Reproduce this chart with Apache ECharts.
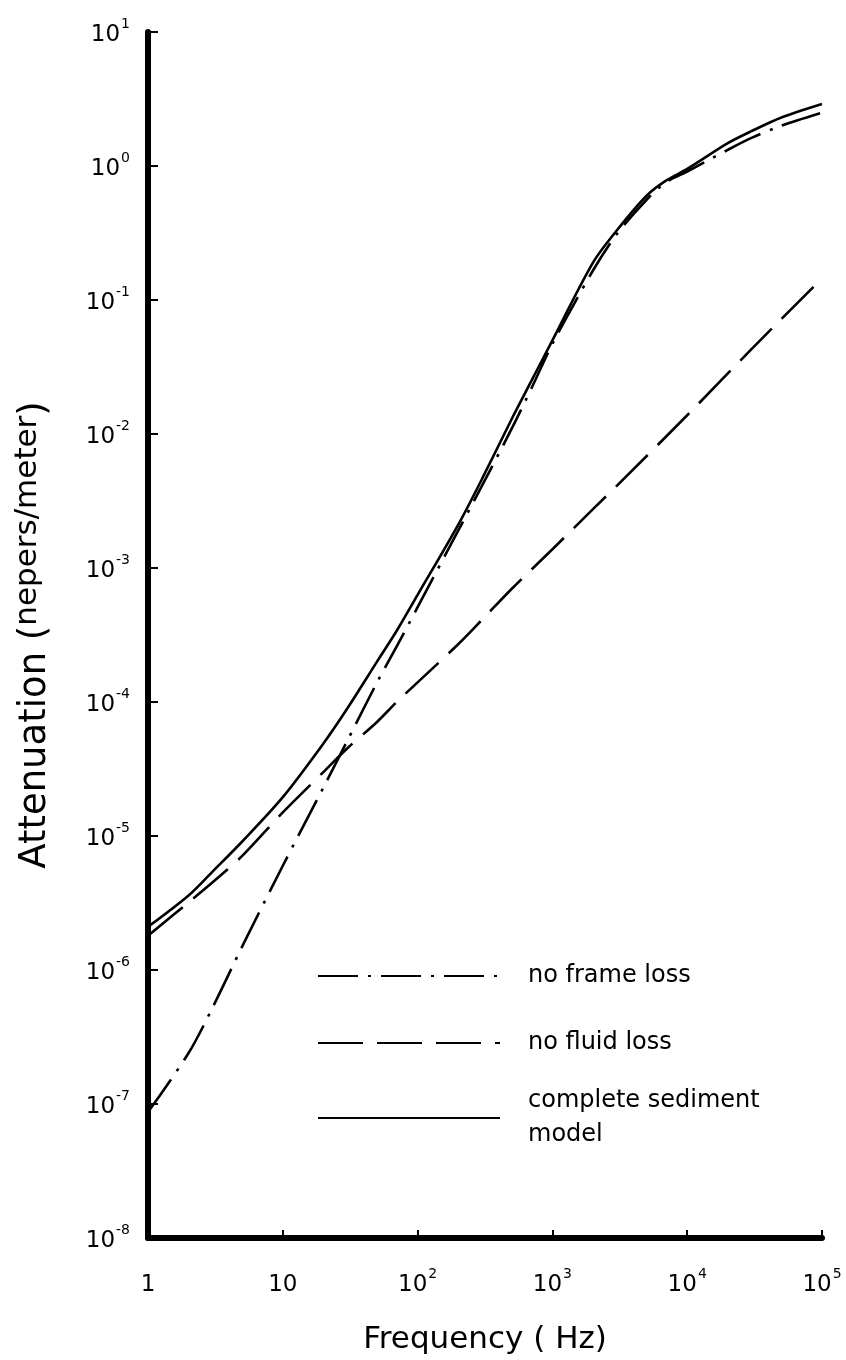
<!DOCTYPE html>
<html>
<head>
<meta charset="utf-8">
<script src="https://cdn.jsdelivr.net/npm/echarts@6/dist/echarts.min.js"></script>
<style>
html,body{margin:0;padding:0;background:#fff;}
#c{width:846px;height:1360px;}
</style>
</head>
<body>
<div id="c"></div>
<script>
// Frequencies (Hz)
var freqs = [1, 2, 3, 5, 10, 20, 30, 50, 70, 100, 200, 300, 500, 700, 1000, 2000, 3000, 5000, 7000, 10000, 20000, 30000, 50000, 100000];
// complete sediment model (nepers/meter)
var completeModel = [2.1e-6, 3.6e-6, 5.4e-6, 9.1e-6, 1.95e-5, 4.9e-5, 8.9e-5, 2.0e-4, 3.4e-4, 6.3e-4, 2.1e-3, 4.6e-3, 1.3e-2, 2.5e-2, 5.0e-2, 0.19, 0.33, 0.60, 0.78, 0.95, 1.48, 1.82, 2.3, 2.9];
// no frame loss
var noFrameLoss = [8.7e-8, 2.4e-7, 5.2e-7, 1.5e-6, 6.0e-6, 2.3e-5, 5.1e-5, 1.4e-4, 2.6e-4, 5.1e-4, 1.9e-3, 4.1e-3, 1.1e-2, 2.2e-2, 4.7e-2, 0.166, 0.31, 0.56, 0.76, 0.91, 1.32, 1.62, 2.0, 2.5];
// no fluid loss
var fluidFreqs = [1, 2, 3, 5, 10, 20, 30, 50, 70, 100, 200, 300, 500, 1000, 2000, 3000, 10000, 30000, 100000];
var noFluidLoss = [1.8e-6, 3.2e-6, 4.5e-6, 7.1e-6, 1.5e-5, 3.0e-5, 4.5e-5, 7.1e-5, 1.0e-4, 1.4e-4, 2.7e-4, 4.1e-4, 7.0e-4, 1.38e-3, 2.75e-3, 4.1e-3, 1.38e-2, 4.3e-2, 0.145];
// tick labels: base and superscript exponent
var xTickBase = ['1', '10', '10', '10', '10', '10'];
var xTickExp = ['', '', '2', '3', '4', '5'];
var yTickBase = ['10', '10', '10', '10', '10', '10', '10', '10', '10', '10'];
var yTickExp = ['-8', '-7', '-6', '-5', '-4', '-3', '-2', '-1', '0', '1'];
var seriesNames = ['no frame loss', 'no fluid loss', 'complete sediment model'];

function pairs(xs, ys) { return xs.map(function (x, i) { return [x, ys[i]]; }); }
function tickText(base, exp) {
  return '{b|' + base + '}' + (exp ? '{s|' + exp + '}' : '');
}

var FONT = 'DejaVu Sans';
var labelRich = {
  b: { fontSize: 23, fontFamily: FONT, color: '#000', lineHeight: 30, verticalAlign: 'bottom' },
  s: { fontSize: 14, fontFamily: FONT, color: '#000', lineHeight: 30, verticalAlign: 'top', padding: [0, 0, 16, 1] }
};

var chart = echarts.init(document.getElementById('c'), null, { renderer: 'canvas' });
chart.setOption({
  backgroundColor: '#fff',
  animation: false,
  grid: { left: 148, right: 24, top: 32, bottom: 113, containLabel: false },
  xAxis: {
    type: 'log', logBase: 10, min: 1, max: 100000, interval: 1,
    name: 'Frequency ( Hz)', nameLocation: 'middle', nameGap: 86,
    nameTextStyle: { fontSize: 31, fontFamily: FONT, color: '#000' },
    axisLine: { show: true, onZero: false, lineStyle: { color: '#000', width: 6 } },
    axisTick: { show: true, inside: true, length: 8, lineStyle: { color: '#000', width: 2 } },
    minorTick: { show: false },
    splitLine: { show: false },
    axisLabel: {
      margin: 29, color: '#000', fontSize: 23, fontFamily: FONT,
      formatter: function (v) { var i = Math.round(Math.log10(v)); return tickText(xTickBase[i], xTickExp[i]); },
      rich: labelRich
    }
  },
  yAxis: {
    type: 'log', logBase: 10, min: 1e-8, max: 10, interval: 1,
    name: '{a|Attenuation (}{n|nepers/meter}{a|)}', nameLocation: 'middle', nameGap: 94,
    nameRotate: 90,
    nameTextStyle: {
      rich: {
        a: { fontSize: 37, fontFamily: FONT, color: '#000', lineHeight: 42, verticalAlign: 'bottom' },
        n: { fontSize: 31, fontFamily: FONT, color: '#000', lineHeight: 42, verticalAlign: 'top' }
      }
    },
    axisLine: { show: true, onZero: false, lineStyle: { color: '#000', width: 6 } },
    axisTick: { show: true, inside: true, length: 10, lineStyle: { color: '#000', width: 2 } },
    minorTick: { show: false },
    splitLine: { show: false },
    axisLabel: {
      margin: 18, color: '#000', fontSize: 23, fontFamily: FONT,
      formatter: function (v) { var i = Math.round(Math.log10(v)) + 8; return tickText(yTickBase[i], yTickExp[i]); },
      rich: labelRich
    }
  },
  legend: [
    {
      orient: 'vertical', left: 312, top: 956,
      itemWidth: 182, itemHeight: 20, itemGap: 37,
      itemStyle: { opacity: 0, color: 'rgba(0,0,0,0)', borderWidth: 0 },
      textStyle: { fontSize: 24, fontFamily: FONT, color: '#000', padding: [0, 0, 0, 23], lineHeight: 30 },
      data: [seriesNames[0], seriesNames[1]]
    },
    {
      orient: 'vertical', left: 312, top: 1062,
      itemWidth: 182, itemHeight: 20,
      itemStyle: { opacity: 0, color: 'rgba(0,0,0,0)', borderWidth: 0 },
      textStyle: { fontSize: 24, fontFamily: FONT, color: '#000', padding: [34, 0, 0, 23], lineHeight: 34 },
      data: [seriesNames[2]],
      formatter: function () { return 'complete sediment\nmodel'; }
    }
  ],
  series: [
    {
      name: seriesNames[0], type: 'line', data: pairs(freqs, noFrameLoss),
      smooth: 0.3, symbol: 'none', showSymbol: false,
      lineStyle: { color: '#000', width: 2.6, type: [40, 10, 3, 10] },
      itemStyle: { color: '#000' }
    },
    {
      name: seriesNames[1], type: 'line', data: pairs(fluidFreqs, noFluidLoss),
      smooth: 0.3, symbol: 'none', showSymbol: false,
      lineStyle: { color: '#000', width: 2.6, type: [45, 14] },
      itemStyle: { color: '#000' }
    },
    {
      name: seriesNames[2], type: 'line', data: pairs(freqs, completeModel),
      smooth: 0.3, symbol: 'none', showSymbol: false,
      lineStyle: { color: '#000', width: 2.6, type: 'solid' },
      itemStyle: { color: '#000' }
    }
  ]
});
</script>
</body>
</html>
